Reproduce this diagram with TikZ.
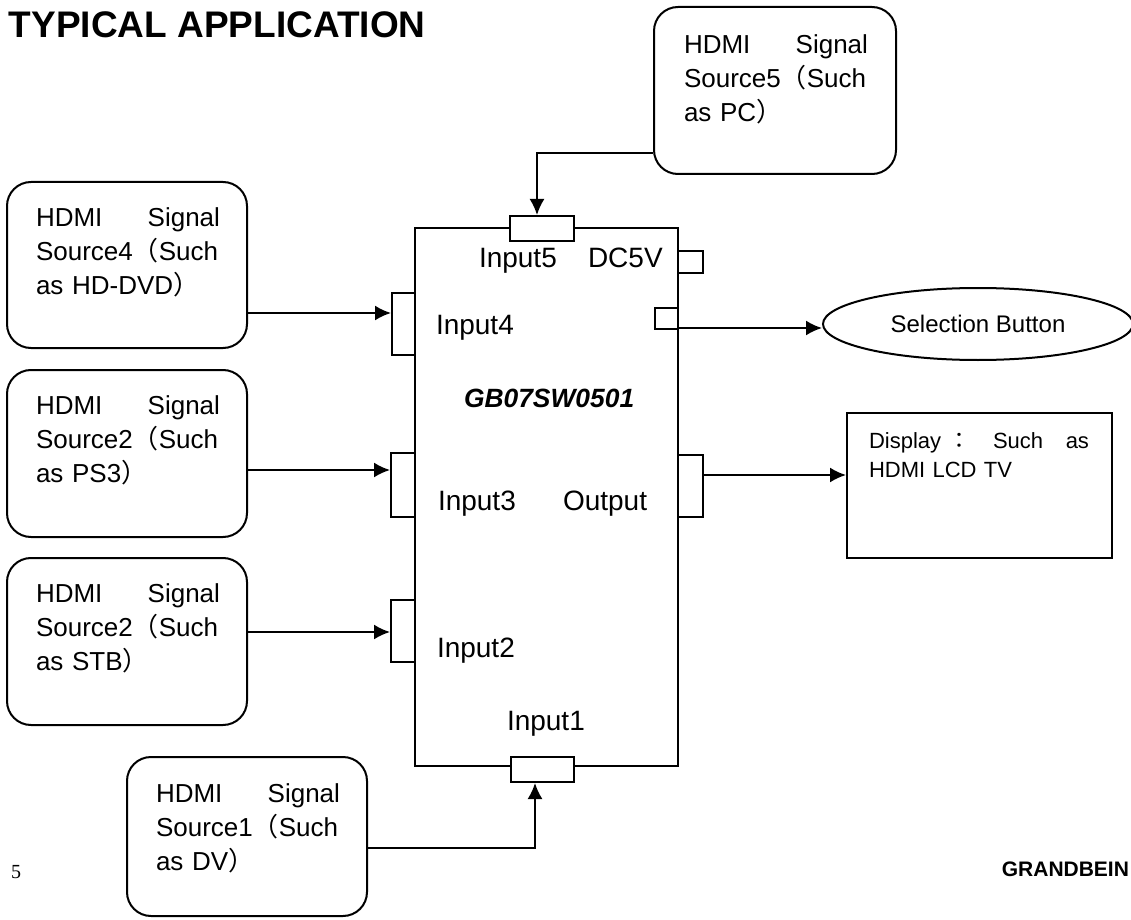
\documentclass[tikz,border=0pt]{standalone}
\usepackage{fontspec}
\setmainfont{Liberation Sans}
\newfontfamily\cjkfont{Noto Sans CJK SC}
\newfontfamily\cjkjpfont{Noto Sans CJK JP}
\newfontfamily\seriffont{Liberation Serif}
\usetikzlibrary{arrows.meta,shapes.geometric}
\newcommand{\LPar}{{\cjkfont （}}
\newcommand{\RPar}{{\cjkfont ）}}
\newcommand{\FCol}{{\cjkjpfont ：}}
\begin{document}
\begin{tikzpicture}[x=0.5pt,y=-0.5pt,line width=1pt,
  srcbox/.style={draw,rounded corners=12pt,inner sep=0pt,minimum width=120pt,minimum height=83pt},
  srctext/.style={anchor=north west,inner sep=0pt,text width=92pt,align=left,font=\fontsize{13}{17}\selectfont},
  port/.style={draw,fill=white,inner sep=0pt},
  lbl/.style={anchor=base west,inner sep=0pt,font=\fontsize{14}{17}\selectfont},
  arr/.style={-{Latex[length=8pt,width=7.5pt]}}]
\useasboundingbox (0,0) rectangle (1131,920);

% title and footer
\node[anchor=base west,inner sep=0pt,font=\fontsize{18.5}{22}\selectfont\bfseries] (title) at (8,38) {TYPICAL APPLICATION};
\node[anchor=base west,inner sep=0pt,font=\fontsize{10}{12}\selectfont\seriffont] (pg) at (10,878) {5};
\node[anchor=base east,inner sep=0pt,font=\fontsize{10.5}{12}\selectfont\bfseries] (brand) at (1130,876) {GRANDBEIN};

% main box
\node[draw,inner sep=0pt,minimum width=131.5pt,minimum height=269pt] (gb) at (546.5,497) {};

% ports
\node[port,minimum width=32pt,minimum height=12.5pt] (p5) at (542,228.5) {};
\node[port,minimum width=12.5pt,minimum height=11pt] (dc) at (690.5,262) {};
\node[port,minimum width=11.5pt,minimum height=10.5pt] (sel) at (666.5,318.5) {};
\node[port,minimum width=11.5pt,minimum height=31pt] (p4) at (403.5,324) {};
\node[port,minimum width=12pt,minimum height=32pt] (p3) at (403,485) {};
\node[port,minimum width=12pt,minimum height=31pt] (p2) at (403,631) {};
\node[port,minimum width=31.5pt,minimum height=12.5pt] (p1) at (542.5,769.5) {};
\node[port,minimum width=12.5pt,minimum height=31pt] (out) at (690.5,486) {};

% labels in main box
\node[lbl] (l5) at (478,267) {Input5};
\node[lbl] (ldc) at (587,267) {DC5V};
\node[lbl] (l4) at (435,335) {Input4};
\node[anchor=base west,inner sep=0pt,font=\fontsize{13.2}{15}\selectfont\bfseries\itshape] (name) at (463,407) {GB07SW0501};
\node[lbl] (l3) at (437,510) {Input3};
\node[lbl] (lout) at (562,510) {Output};
\node[lbl] (l2) at (436,657) {Input2};
\node[lbl] (l1) at (506,730) {Input1};

% sources
\node[srcbox] (s4) at (127,265) {};
\node[srctext] (s4t) at (35,207) {HDMI\hfill Signal\\Source4\LPar Such\\as HD-DVD\RPar};
\node[srcbox,minimum height=83.5pt] (s3) at (127,453.5) {};
\node[srctext] (s3t) at (35,395) {HDMI\hfill Signal\\Source2\LPar Such\\as PS3\RPar};
\node[srcbox,minimum height=83.5pt] (s2) at (127,641.5) {};
\node[srctext] (s2t) at (35,583) {HDMI\hfill Signal\\Source2\LPar Such\\as STB\RPar};
\node[srcbox,minimum height=79.5pt] (s1) at (247,836.5) {};
\node[srctext] (s1t) at (155,783) {HDMI\hfill Signal\\Source1\LPar Such\\as DV\RPar};
\node[srcbox,minimum width=121pt,minimum height=83.5pt] (s5) at (775,90.5) {};
\node[srctext] (s5t) at (683,34) {HDMI\hfill Signal\\Source5\LPar Such\\as PC\RPar};

% selection button and display
\node[draw,ellipse,inner sep=0pt,minimum width=155pt,minimum height=36pt,font=\fontsize{12}{14}\selectfont] (btn) at (978,324) {Selection Button};
\node[draw,inner sep=0pt,minimum width=132.5pt,minimum height=72.5pt] (disp) at (979.5,485.5) {};
\node[anchor=north west,inner sep=0pt,text width=110pt,align=left,font=\fontsize{11}{14.5}\selectfont] (dispt) at (868,432) {Display \FCol\hfill Such\hfill as\\HDMI LCD TV};

% connectors
\coordinate (k4) at (0,313);
\coordinate (k3) at (0,470);
\coordinate (k2) at (0,632);
\coordinate (k1) at (535,848);
\coordinate (k5) at (537,153);
\coordinate (k6) at (0,328);
\coordinate (k7) at (0,475);
\draw[arr] (s4.east |- k4) -- (p4.west |- k4);
\draw[arr] (s3.east |- k3) -- (p3.west |- k3);
\draw[arr] (s2.east |- k2) -- (p2.west |- k2);
\draw[arr] (s1.east |- k1) -| (p1.south -| k1);
\draw[arr] (s5.west |- k5) -| (p5.north -| k5);
\draw[arr] (sel.east |- k6) -- (btn.west |- k6);
\draw[arr] (out.east |- k7) -- (disp.west |- k7);
\end{tikzpicture}
\end{document}
